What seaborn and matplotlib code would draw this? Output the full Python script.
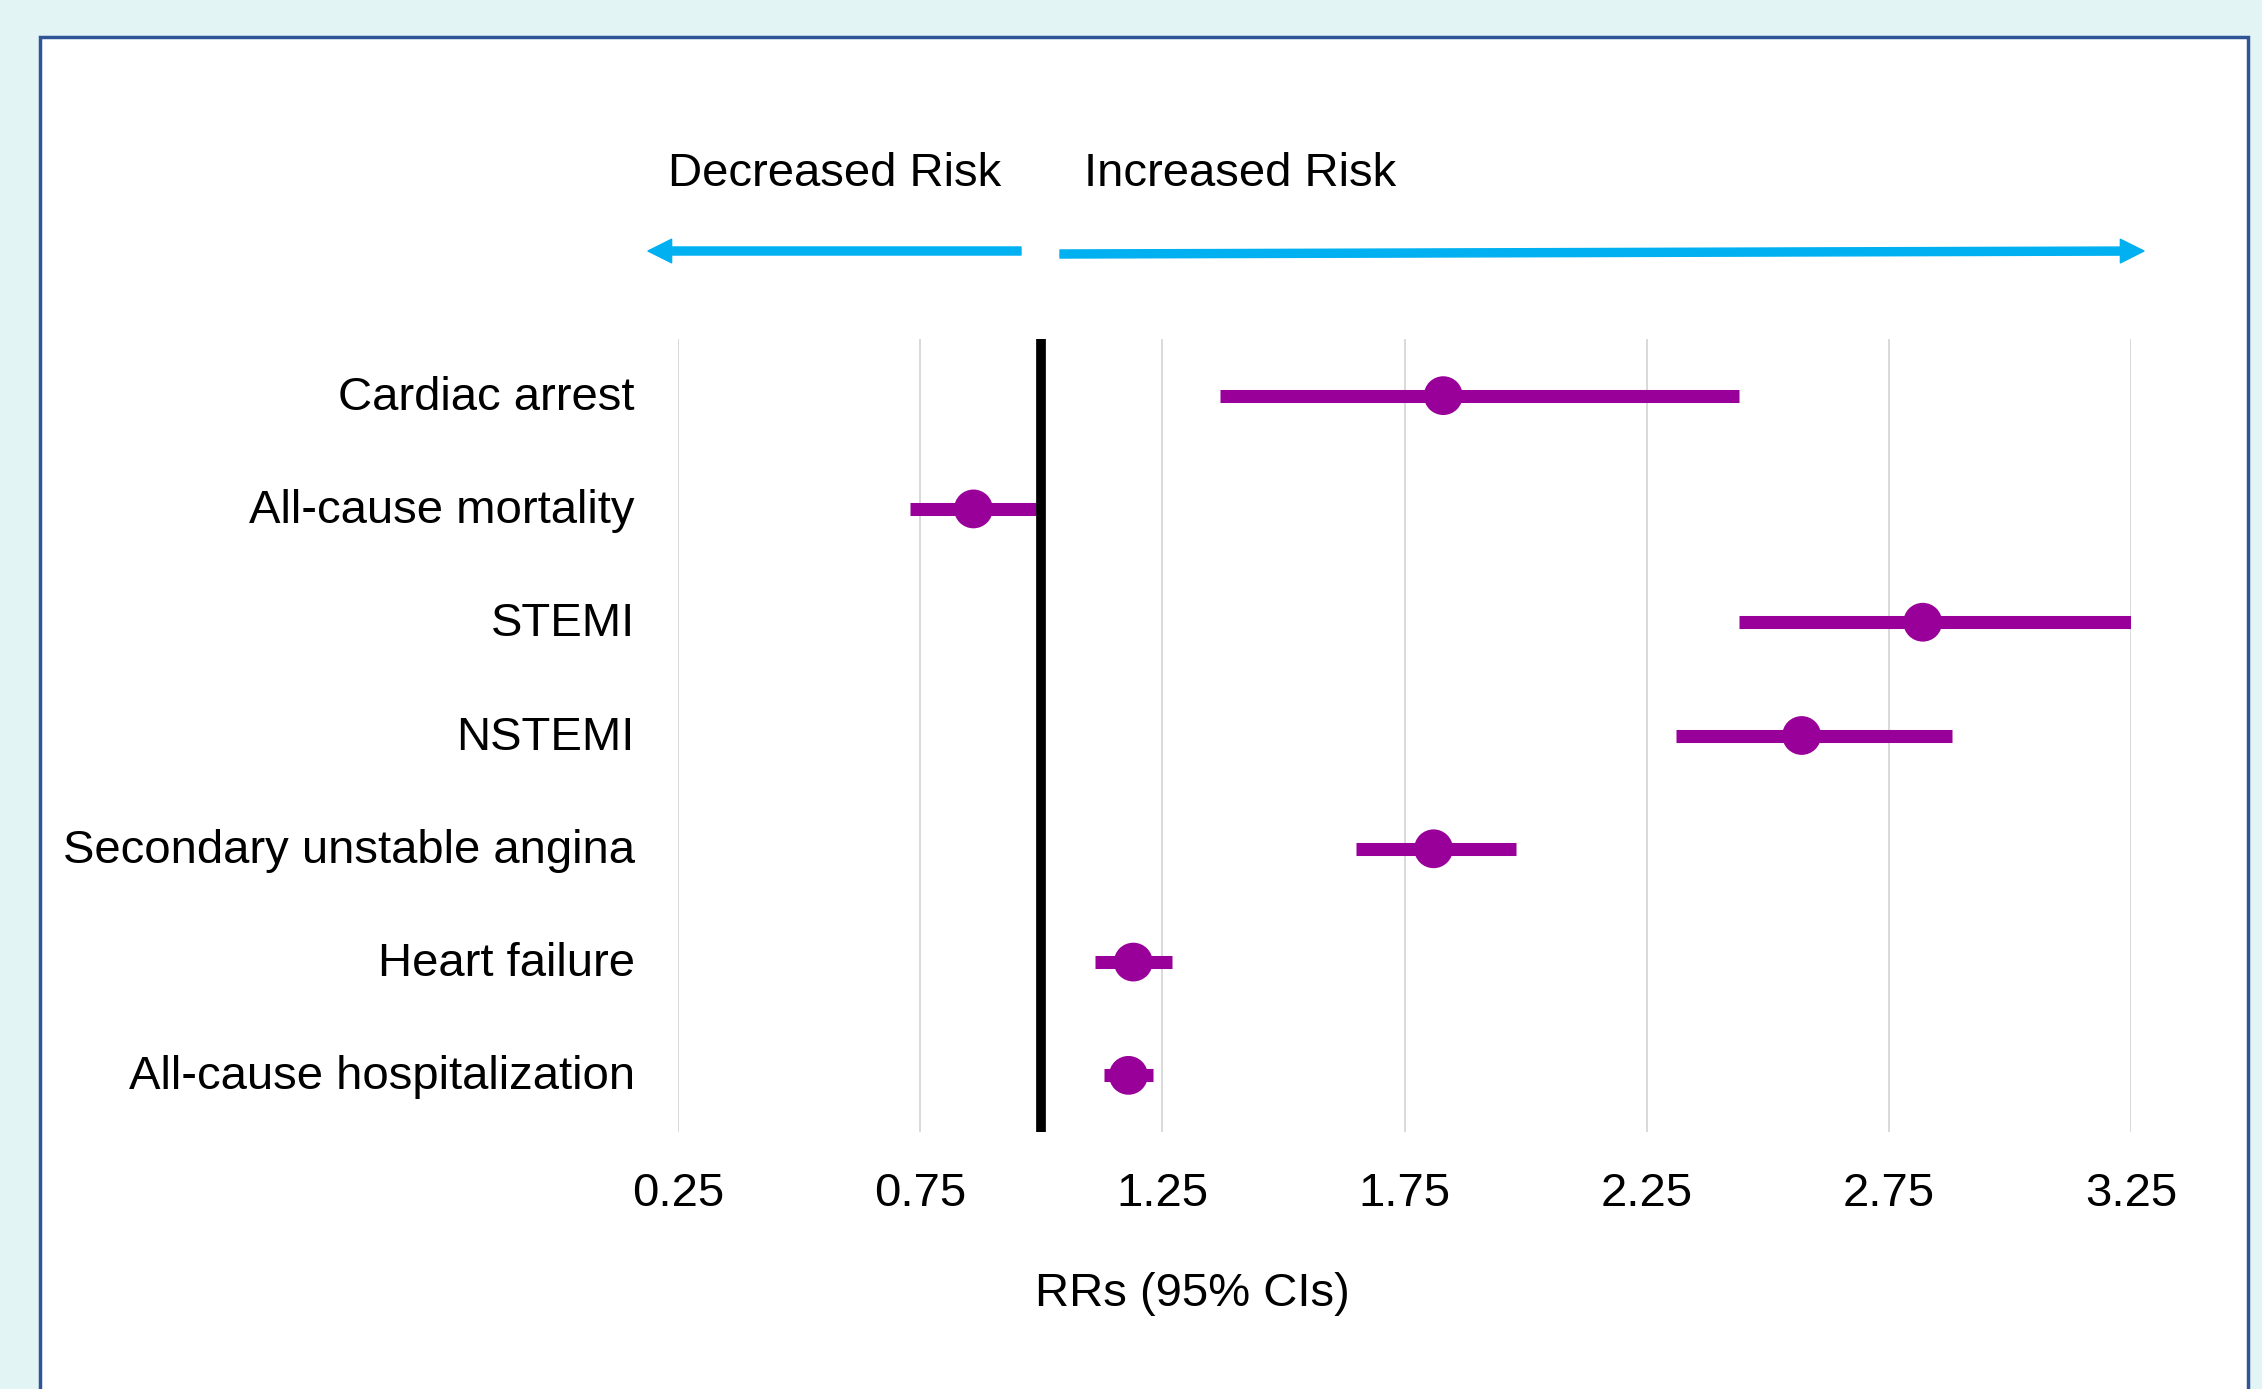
import matplotlib
matplotlib.use("Agg")
import matplotlib.pyplot as plt
import matplotlib.transforms as mtransforms
from matplotlib.patches import Rectangle
import numpy as np
import pandas as pd
import seaborn as sns

# relative risks with 95% confidence intervals
outcomes = ['Cardiac arrest', 'All-cause mortality', 'STEMI', 'NSTEMI',
            'Secondary unstable angina', 'Heart failure', 'All-cause hospitalization']
rr = [1.83, 0.86, 2.82, 2.57, 1.81, 1.19, 1.18]
ci_low = [1.37, 0.73, 2.44, 2.31, 1.65, 1.11, 1.13]
ci_high = [2.44, 0.99, 3.25, 2.88, 1.98, 1.27, 1.23]
x_ticks = [0.25, 0.75, 1.25, 1.75, 2.25, 2.75, 3.25]
x_tick_labels = ['0.25', '0.75', '1.25', '1.75', '2.25', '2.75', '3.25']

df = pd.DataFrame({'outcome': outcomes, 'rr': rr, 'low': ci_low, 'high': ci_high})

sns.set_theme(style='white')
plt.rcParams['font.family'] = ['Liberation Sans', 'DejaVu Sans']
plt.rcParams['text.color'] = 'black'
plt.rcParams['xtick.color'] = 'black'
plt.rcParams['ytick.color'] = 'black'

W, H = 2262, 1389
fig = plt.figure(figsize=(W / 100, H / 100), dpi=100, facecolor='#E3F4F4')

# white panel with blue frame
frame = Rectangle((40 / W, -0.05), (2248 - 40) / W, 1 - 37 / H + 0.05,
                  transform=fig.transFigure, facecolor='white',
                  edgecolor='#2F5597', lw=2.5, zorder=-1)
fig.patches.append(frame)

ax = fig.add_axes([678 / W, 1 - 1132 / H, (2131 - 678) / W, (1132 - 339) / H])
ax.set_facecolor('none')

purple = '#990099'
ax.hlines(df['outcome'], df['low'], df['high'], color=purple, lw=9.4, zorder=2)
ax.axvline(1.0, color='black', lw=7, zorder=3)
sns.scatterplot(data=df, x='rr', y='outcome', color=purple, s=780,
                edgecolor='none', ax=ax, zorder=4)

ax.set_xlim(0.25, 3.25)
ax.set_ylim(6.5, -0.5)
ax.set_xticks(x_ticks, x_tick_labels)
ax.xaxis.grid(True, color='#D9D9D9', lw=1.4)
ax.yaxis.grid(False)
for s in ax.spines.values():
    s.set_visible(False)
ax.tick_params(axis='x', length=0, pad=29, labelsize=34)
ax.tick_params(axis='y', length=0, pad=31, labelsize=34)
# nudge the category labels up a little
shift = mtransforms.ScaledTranslation(0, 0.03, fig.dpi_scale_trans)
for lab in ax.get_yticklabels():
    lab.set_transform(lab.get_transform() + shift)
ax.set_xlabel('')
ax.set_ylabel('')

fig.text(1192 / W, 1 - 1294 / H, 'RRs (95% CIs)', ha='center', va='center', fontsize=34)
fig.text(835 / W, 1 - 186 / H, 'Decreased Risk', ha='center', va='baseline', fontsize=34)
fig.text(1240 / W, 1 - 186 / H, 'Increased Risk', ha='center', va='baseline', fontsize=34)

arrow_kw = dict(color='#00B0F0', width=5.8, headwidth=17, headlength=17, shrink=0)
ax.annotate('', xy=(648, H - 251), xytext=(1021, H - 251),
            xycoords='figure pixels', textcoords='figure pixels', arrowprops=arrow_kw)
ax.annotate('', xy=(2144, H - 251), xytext=(1060, H - 254),
            xycoords='figure pixels', textcoords='figure pixels', arrowprops=arrow_kw)

fig.savefig('out.png', dpi=100, facecolor=fig.get_facecolor())
